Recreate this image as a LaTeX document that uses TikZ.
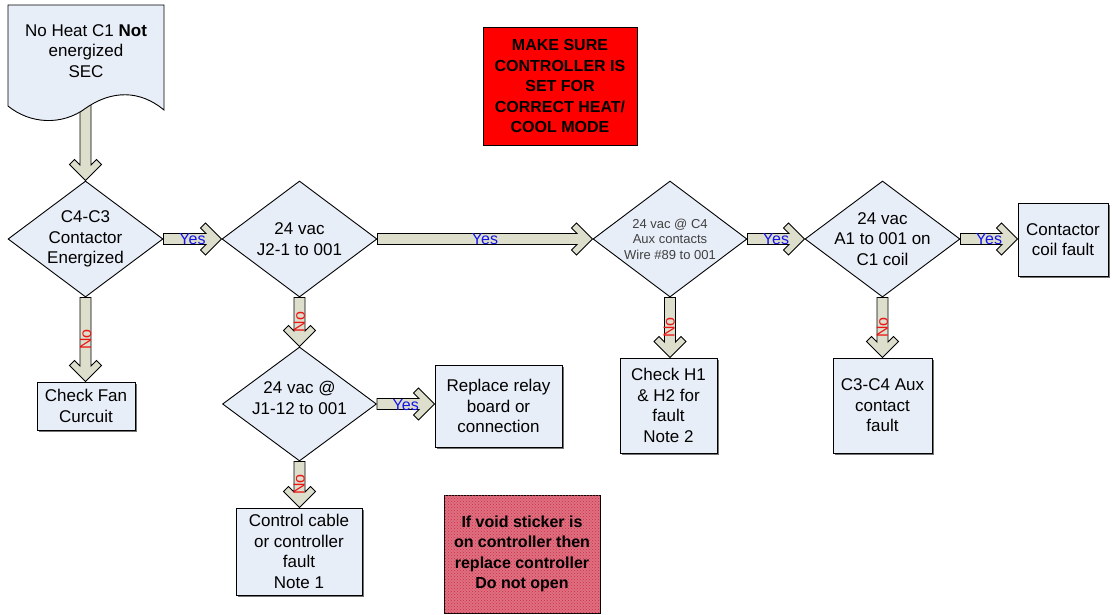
\documentclass[tikz,border=0pt]{standalone}
\usepackage{fontspec}
\setmainfont{Liberation Sans}
\usetikzlibrary{shapes.geometric,calc,shadows,patterns}

\definecolor{boxfill}{RGB}{232,238,248}
\definecolor{shaftfill}{RGB}{221,223,204}
\definecolor{warnred}{RGB}{255,0,0}
\definecolor{warnpink}{RGB}{222,112,128}
\definecolor{hatchred}{RGB}{205,45,75}
\definecolor{yesblue}{RGB}{20,20,235}
\definecolor{nored}{RGB}{235,20,20}
\definecolor{subtext}{RGB}{64,64,64}

\tikzset{
  txt/.style={font=\fontsize{17}{20.5}\selectfont, align=center, inner sep=0pt},
  box/.style={draw=black, line width=0.9pt, fill=boxfill, txt,
    drop shadow={shadow xshift=1.6pt, shadow yshift=-1.6pt, fill=black!55, opacity=1}},
  dia/.style={diamond, draw=black, line width=0.9pt, fill=boxfill, inner sep=0pt},
  chev/.style={draw=black, line width=0.9pt, fill=shaftfill, line join=miter},
  yeslbl/.style={text=yesblue, font=\fontsize{16}{16}\selectfont, inner sep=0pt},
  nolbl/.style={text=nored, font=\fontsize{16}{16}\selectfont, inner sep=0pt, rotate=90},
  warn/.style={draw=black, line width=0.8pt, inner sep=0pt, align=center,
    font=\bfseries\fontsize{16}{20.5}\selectfont},
}

% chevron connector pointing right: from, tip, label style, label name, label text
\newcommand\chevR[5]{%
  \draw[chev] let \p1=(#1), \p2=(#2) in
    (\x1,\y1+5.5pt) -- (\x2-15.5pt,\y1+5.5pt) -- (\x2-21pt,\y1+11pt) -- (\x2-16pt,\y1+16pt)
    -- (\x2,\y1) -- (\x2-16pt,\y1-16pt) -- (\x2-21pt,\y1-11pt) -- (\x2-15.5pt,\y1-5.5pt)
    -- (\x1,\y1-5.5pt) -- cycle;
  \node[#3] (#4) at ($(#1)!0.5!(#2)$) {#5};}

% chevron connector pointing down: from, tip
\newcommand\chevDshape[2]{%
  \draw[chev] let \p1=(#1), \p2=(#2) in
    (\x1+5.5pt,\y1) -- (\x1+5.5pt,\y2+15.5pt) -- (\x1+11pt,\y2+21pt) -- (\x1+16pt,\y2+16pt)
    -- (\x1,\y2) -- (\x1-16pt,\y2+16pt) -- (\x1-11pt,\y2+21pt) -- (\x1-5.5pt,\y2+15.5pt)
    -- (\x1-5.5pt,\y1) -- cycle;}

% chevron connector pointing down with a label: from, tip, label name, label text
\newcommand\chevD[4]{%
  \chevDshape{#1}{#2}
  \node[nolbl] (#3) at ($(#1)!0.5!(#2)$) {#4};}

\begin{document}
\begin{tikzpicture}[x=1pt,y=-1pt]
\useasboundingbox (0,0) rectangle (1112,614);

% decision diamonds
\node[dia, minimum width=155pt, minimum height=116pt] (d1) at (85.5,239) {};
\node[txt] (d1t) at (85.5,239) {C4-C3\\Contactor\\Energized};

\node[dia, minimum width=155pt, minimum height=116pt] (d2) at (299.5,239) {};
\node[txt] (d2t) at (299.5,239) {24 vac\\J2-1 to 001};

\node[dia, minimum width=154pt, minimum height=116pt] (d3) at (670,239) {};
\node[txt, font=\fontsize{13}{15.5}\selectfont, text=subtext] (d3t) at (670,239)
  {24 vac @ C4\\Aux contacts\\Wire \#89 to 001};

\node[dia, minimum width=155pt, minimum height=116pt] (d4) at (882.5,239) {};
\node[txt] (d4t) at (882.5,239) {24 vac\\A1 to 001 on\\C1 coil};

\node[dia, minimum width=154pt, minimum height=114pt] (d5) at (299.5,404) {};
\node[txt] (d5t) at (299.5,398) {24 vac @\\J1-12 to 001};

% result boxes
\node[box, minimum width=98pt, minimum height=48pt] (fan) at (86,406) {Check Fan\\Curcuit};
\node[box, minimum width=127pt, minimum height=82pt] (relay) at (498.5,406) {Replace relay\\board or\\connection};
\node[box, minimum width=97pt, minimum height=95pt] (hh) at (668.5,405.5) {Check H1\\\& H2 for\\fault\\Note 2};
\node[box, minimum width=99pt, minimum height=95pt] (aux) at (882.5,405.5) {C3-C4 Aux\\contact\\fault};
\node[box, minimum width=90pt, minimum height=73pt] (coil) at (1063,239.5) {Contactor\\coil fault};
\node[box, minimum width=126pt, minimum height=87pt] (ctrl) at (299,551.5) {Control cable\\or controller\\fault\\Note 1};

% warning notes
\node[warn, fill=warnred, minimum width=154pt, minimum height=118pt] (mode) at (560,86)
  {MAKE SURE\\CONTROLLER IS\\SET FOR\\CORRECT HEAT/\\COOL MODE};
\node[warn, fill=warnpink, postaction={pattern=crosshatch dots, pattern color=hatchred},
  minimum width=156pt, minimum height=118pt] (void) at (522,554)
  {If void sticker is\\on controller then\\replace controller\\Do not open};

% start: document shape with a wavy lower edge
\coordinate (docb) at (85.5,100);
\chevDshape{docb}{d1.north}
\path[draw=black, line width=0.9pt, fill=boxfill]
  (8,5) -- (164,5) -- (164,110) .. controls (140,90) and (112,90) .. (86,108)
  .. controls (62,126) and (30,124) .. (8,106) -- cycle;
\node[txt] (doc) at (86,51) {No Heat C1 \textbf{Not}\\energized\\SEC};

% Yes branches
\chevR{d1.east}{d2.west}{yeslbl}{y1}{Yes}
\chevR{d2.east}{d3.west}{yeslbl}{y2}{Yes}
\chevR{d3.east}{d4.west}{yeslbl}{y3}{Yes}
\chevR{d4.east}{coil.west}{yeslbl}{y4}{Yes}
\chevR{d5.east}{relay.west}{yeslbl}{y5}{Yes}

% No branches
\chevD{d1.south}{fan.north}{n1}{No}
\chevD{d2.south}{d5.north}{n2}{No}
\chevD{d3.south}{hh.north}{n3}{No}
\chevD{d4.south}{aux.north}{n4}{No}
\chevD{d5.south}{ctrl.north}{n5}{No}
\end{tikzpicture}
\end{document}
